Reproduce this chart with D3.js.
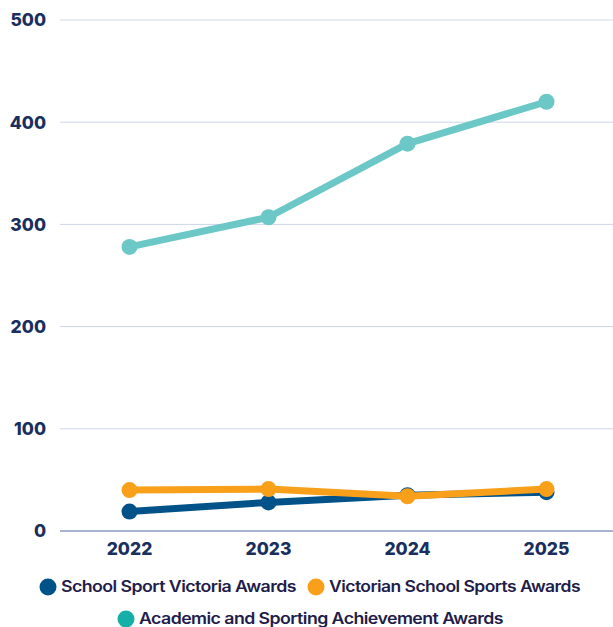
<!DOCTYPE html>
<html><head><meta charset="utf-8">
<script src="https://cdn.jsdelivr.net/npm/d3@7"></script>
<style>body{margin:0;background:#fff}svg{display:block}</style>
</head><body>
<script>
const years = ["2022","2023","2024","2025"];
const seriesNames = ["School Sport Victoria Awards","Victorian School Sports Awards","Academic and Sporting Achievement Awards"];
const ssvAwards = [19, 28, 35, 38];
const vssAwards = [40, 41, 34, 41];
const asaAwards = [278, 307, 379, 420];
const yTicks = [0,100,200,300,400,500];
const colors = ["#005288","#F9A01B","#6BC8C6"];
const legendColors = ["#005288","#F9A01B","#14B0A8"];

const W=613,H=627;
const svg=d3.select("body").append("svg").attr("width",W).attr("height",H);
const x=d3.scalePoint().domain(years).range([60,616]).padding(0.5);
const y=d3.scaleLinear().domain([0,500]).range([531,20]);

const g=svg.append("g");
yTicks.forEach(t=>{
  g.append("line").attr("x1",60).attr("x2",W).attr("y1",y(t)).attr("y2",y(t))
   .attr("stroke",t===0?"#8D9DBB":"#CCD6E8").attr("stroke-width",t===0?1.5:1);
  g.append("text").attr("x",46).attr("y",y(t)).attr("dy","0.36em").attr("text-anchor","end")
   .attr("font-family","Inter, 'Open Sans', sans-serif").attr("font-weight",800).attr("font-size",17.5)
   .attr("fill","#1A2F5E").text(t);
});
years.forEach(yr=>{
  g.append("text").attr("x",x(yr)).attr("y",554.5).attr("text-anchor","middle")
   .attr("font-family","Inter, 'Open Sans', sans-serif").attr("font-weight",800).attr("font-size",17.5)
   .attr("fill","#1A2F5E").text(yr);
});

const data=[ssvAwards,vssAwards,asaAwards];
const line=d3.line().x((d,i)=>x(years[i])).y(d=>y(d));
data.forEach((s,k)=>{
  g.append("path").attr("d",line(s)).attr("fill","none").attr("stroke",colors[k])
   .attr("stroke-width",7).attr("stroke-linejoin","round");
  g.selectAll(null).data(s).enter().append("circle")
   .attr("cx",(d,i)=>x(years[i])).attr("cy",d=>y(d)).attr("r",8).attr("fill",colors[k]);
});

const leg=[{c:48,tx:61,w:235,y:587},{c:316,tx:329,w:251,y:587},{c:126,tx:139,w:364,y:619}];
leg.forEach((l,k)=>{
  svg.append("circle").attr("cx",l.c).attr("cy",l.y).attr("r",8.5).attr("fill",legendColors[k]);
  svg.append("text").attr("x",l.tx).attr("y",l.y).attr("dy","0.35em")
   .attr("font-family","Inter, 'Open Sans', sans-serif").attr("font-weight",600).attr("font-size",15.5)
   .attr("letter-spacing","-0.5").attr("fill","#1F1D4A")
   .attr("textLength",l.w).attr("lengthAdjust","spacingAndGlyphs").text(seriesNames[k]);
});
</script>
</body></html>
